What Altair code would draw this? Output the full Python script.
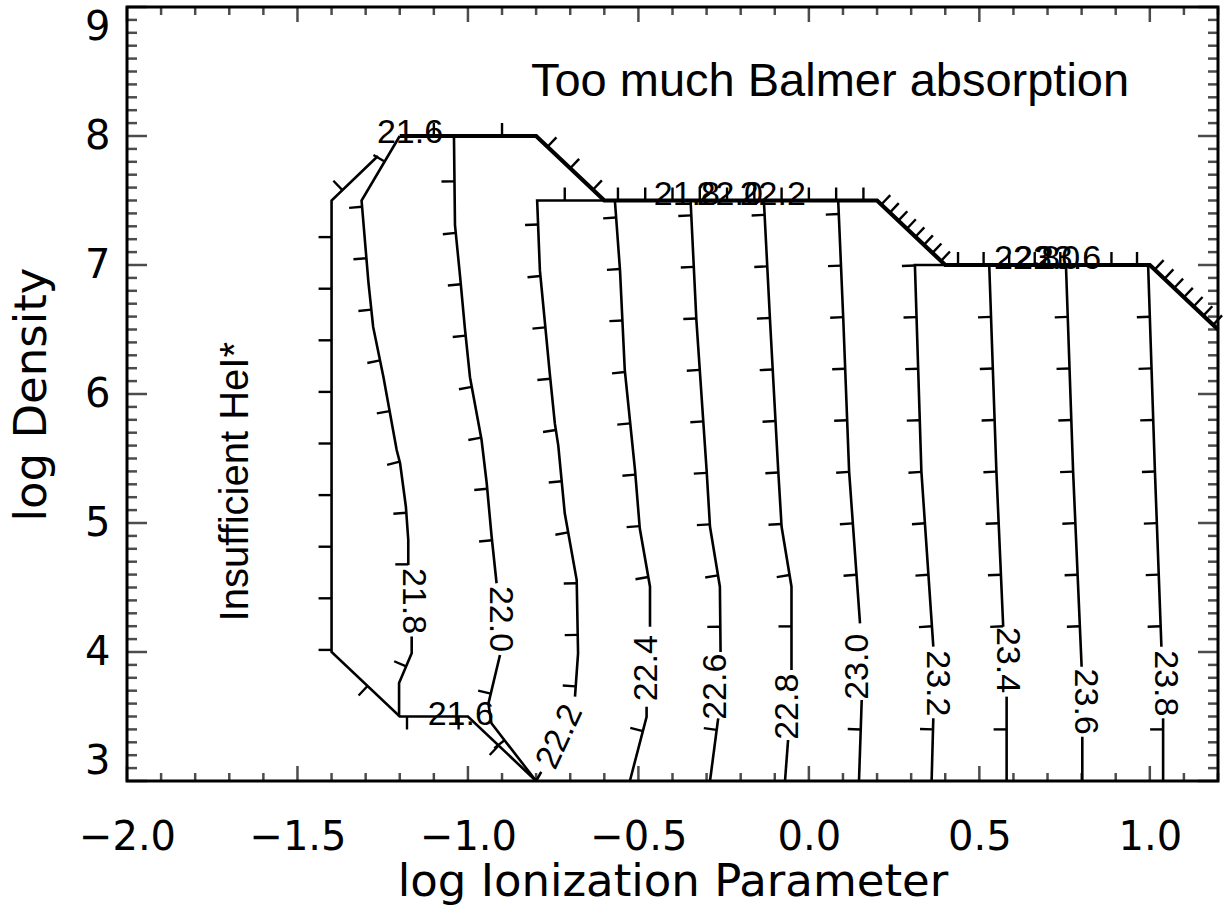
import math
import altair as alt
import pandas as pd

# ---------------- axes ----------------
X_MIN, X_MAX = -2.0, 1.2
Y_MIN, Y_MAX = 3.0, 9.0
PLOT_W, PLOT_H = 1091, 774
X_MAJOR = [-2.0, -1.5, -1.0, -0.5, 0.0, 0.5, 1.0]
Y_MAJOR = [3, 4, 5, 6, 7, 8, 9]

# ---------------- contour levels (None = gap left for the label) ----------------
C216_X = [-0.80, -1.00, -1.20, -1.40, -1.40, -1.264]
C216_Y = [3.00, 3.50, 3.50, 4.00, 7.50, 7.845]

C218_X = [-1.202, -1.202, -1.165, -1.165, None, -1.175, -1.175, -1.182, -1.199, -1.209, -1.248, -1.278, -1.292, -1.312, -1.20]
C218_Y = [3.50, 3.76, 3.99, 4.12, None, 4.674, 4.868, 5.126, 5.463, 5.566, 6.134, 6.52, 6.87, 7.50, 8.00]

C220_X = [-0.80, -0.931, -0.940, -0.906, None, -0.916, -0.931, -0.945, -0.960, -0.994, -1.009, -1.023, -1.038, -1.041]
C220_Y = [3.00, 3.447, 3.60, 3.977, None, 4.533, 4.907, 5.31, 5.643, 6.13, 6.51, 6.91, 7.31, 8.00]

C222_X = [-0.80, -0.785, None, -0.686, -0.677, -0.681, -0.716, -0.735, -0.745, -0.760, -0.774, -0.789, -0.797, -0.60]
C222_Y = [3.00, 3.07, None, 3.654, 3.99, 4.558, 5.075, 5.60, 5.77, 6.16, 6.548, 6.96, 7.50, 7.50]

C224_X = [-0.525, -0.476, -0.476, None, -0.466, -0.466, -0.496, -0.510, -0.540, -0.554, -0.569]
C224_Y = [3.00, 3.498, 3.576, None, 4.196, 4.506, 4.959, 5.411, 6.186, 6.96, 7.50]

C226_X = [-0.290, -0.266, None, -0.259, -0.261, -0.290, -0.300, -0.330, -0.347]
C226_Y = [3.00, 3.486, None, 4.00, 4.506, 4.971, 5.411, 6.574, 7.50]

C228_X = [-0.070, -0.061, None, -0.051, -0.051, -0.080, -0.090, -0.114, -0.132]
C228_Y = [3.00, 3.318, None, 3.86, 4.506, 4.971, 5.411, 6.574, 7.50]

C230_X = [0.147, 0.155, None, 0.150, 0.118, 0.101, 0.086]
C230_Y = [3.00, 3.628, None, 4.222, 5.40, 6.574, 7.50]

C232_X = [0.360, 0.365, None, 0.365, 0.330, 0.311, 0.404]
C232_Y = [3.00, 3.486, None, 4.041, 5.40, 7.00, 7.00]

C234_X = [0.580, 0.580, None, 0.570, 0.550, 0.529]
C234_Y = [3.00, 3.654, None, 4.196, 5.40, 7.00]

C236_X = [0.802, 0.802, None, 0.800, 0.775, 0.754]
C236_Y = [3.00, 3.343, None, 3.886, 5.40, 7.00]

C238_X = [1.039, 1.039, None, 1.034, 1.015, 0.995]
C238_Y = [3.00, 3.486, None, 4.041, 5.40, 7.00]

CONTOURS = [
    ("21.6", C216_X, C216_Y), ("21.8", C218_X, C218_Y), ("22.0", C220_X, C220_Y),
    ("22.2", C222_X, C222_Y), ("22.4", C224_X, C224_Y), ("22.6", C226_X, C226_Y),
    ("22.8", C228_X, C228_Y), ("23.0", C230_X, C230_Y), ("23.2", C232_X, C232_Y),
    ("23.4", C234_X, C234_Y), ("23.6", C236_X, C236_Y), ("23.8", C238_X, C238_Y),
]

# upper edge of the valid model grid (all levels pile up here)
BOUNDARY_X = [-1.20, -0.80, -0.60, 0.20, 0.40, 1.00, 1.20]
BOUNDARY_Y = [8.00, 8.00, 7.50, 7.50, 7.00, 7.00, 6.50]
BOUNDARY_TICK_COUNTS = [2, 3, 10, 8, 8, 7]

# contour labels
LABEL_TEXT = ["21.6", "21.6", "21.8", "22.0", "22.2", "22.4", "22.6", "22.8", "23.0",
              "23.2", "23.4", "23.6", "23.8",
              "21.8", "22.0", "22.2", "22.8", "23.0", "23.6"]
LABEL_X = [-1.170, -1.021, -1.161, -0.906, -0.730, -0.476, -0.271, -0.061, 0.145,
           0.375, 0.580, 0.809, 1.044,
           -0.358, -0.232, -0.106, 0.640, 0.699, 0.760]
LABEL_Y = [8.027, 3.512, 4.395, 4.256, 3.343, 3.874, 3.731, 3.576, 3.886,
           3.757, 3.938, 3.615, 3.757,
           7.543, 7.543, 7.543, 7.047, 7.047, 7.047]
LABEL_ANGLE = [0, 0, 90, 90, 295, 270, 270, 270, 270,
               90, 90, 90, 90,
               0, 0, 0, 0, 0, 0]

NOTE_TEXT = ["Too much Balmer absorption", "Insufficient HeI*"]
NOTE_X = [0.062, -1.645]
NOTE_Y = [8.31, 5.32]

# ---------------- build tables ----------------
SX = PLOT_W / (X_MAX - X_MIN)
SY = PLOT_H / (Y_MAX - Y_MIN)
TICK_SPACING = 51.6
TICK_LEN = 13.0


def split_segments(xs, ys):
    segs, cur = [], []
    for x, y in zip(xs, ys):
        if x is None:
            if cur:
                segs.append(cur)
            cur = []
        else:
            cur.append((x, y))
    if cur:
        segs.append(cur)
    return segs


def tick_end(px, py, x0, y0, x1, y1, length):
    dx = (x1 - x0) * SX
    dy = -(y1 - y0) * SY
    L = math.hypot(dx, dy)
    ux, uy = dx / L, dy / L
    lx, ly = uy, -ux  # left of travel direction (screen coords)
    return px + lx * length / SX, py - ly * length / SY


def ticks_along(segs):
    out = []
    s = 0.0
    nxt = TICK_SPACING
    last = None
    for seg in segs:
        if last is not None:
            g = math.hypot((seg[0][0] - last[0]) * SX, (seg[0][1] - last[1]) * SY)
            s += g
            while nxt < s:
                nxt += TICK_SPACING
        for (x0, y0), (x1, y1) in zip(seg[:-1], seg[1:]):
            L = math.hypot((x1 - x0) * SX, (y1 - y0) * SY)
            while nxt <= s + L:
                t = (nxt - s) / L
                px, py = x0 + t * (x1 - x0), y0 + t * (y1 - y0)
                ex, ey = tick_end(px, py, x0, y0, x1, y1, TICK_LEN)
                out.append((px, py, ex, ey))
                nxt += TICK_SPACING
            s += L
        last = seg[-1]
    return out


line_rows, tick_rows = [], []
for lvl, xs_, ys_ in CONTOURS:
    segs = split_segments(xs_, ys_)
    for si, seg in enumerate(segs):
        for oi, (x, y) in enumerate(seg):
            line_rows.append({"seg": f"{lvl}-{si}", "o": oi, "x": x, "y": y})
    for px, py, ex, ey in ticks_along(segs):
        tick_rows.append({"x": px, "y": py, "x2": ex, "y2": ey})

bnd_rows = [{"o": i, "x": x, "y": y} for i, (x, y) in enumerate(zip(BOUNDARY_X, BOUNDARY_Y))]
for i, n in enumerate(BOUNDARY_TICK_COUNTS):
    x0, y0, x1, y1 = BOUNDARY_X[i], BOUNDARY_Y[i], BOUNDARY_X[i + 1], BOUNDARY_Y[i + 1]
    for k in range(n):
        t = (k + 0.5) / n
        px, py = x0 + t * (x1 - x0), y0 + t * (y1 - y0)
        ex, ey = tick_end(px, py, x0, y0, x1, y1, TICK_LEN)
        tick_rows.append({"x": px, "y": py, "x2": ex, "y2": ey})

lines_df = pd.DataFrame(line_rows)
bnd_df = pd.DataFrame(bnd_rows)
ticks_df = pd.DataFrame(tick_rows)
labels_df = pd.DataFrame({"t": LABEL_TEXT, "x": LABEL_X, "y": LABEL_Y, "a": LABEL_ANGLE})

x_minor = [round(X_MIN + 0.1 * i, 1) for i in range(int(round((X_MAX - X_MIN) / 0.1)) + 1)]
x_minor = [v for v in x_minor if all(abs(v - m) > 1e-6 for m in X_MAJOR)]
y_minor = [round(Y_MIN + 0.1 * i, 1) for i in range(int(round((Y_MAX - Y_MIN) / 0.1)) + 1)]
y_minor = [v for v in y_minor if all(abs(v - m) > 1e-6 for m in Y_MAJOR)]

xs = alt.Scale(domain=[X_MIN, X_MAX], nice=False, zero=False)
ys = alt.Scale(domain=[Y_MIN, Y_MAX], nice=False, zero=False)

x_axis = alt.Axis(values=X_MAJOR, format=".1f", title="log Ionization Parameter",
                  grid=False, ticks=False, tickSize=0, domain=False, labelPadding=36,
                  labelFont="DejaVu Sans", labelFontSize=40, labelColor="black",
                  labelFlush=False, labelOverlap=False,
                  titleFont="DejaVu Sans", titleFontSize=45, titleFontWeight="normal",
                  titleColor="black", titlePadding=2)
y_axis = alt.Axis(values=Y_MAJOR, format="d", title="log Density",
                  grid=False, ticks=False, tickSize=0, domain=False, labelPadding=17,
                  labelFont="DejaVu Sans", labelFontSize=40, labelColor="black",
                  labelFlush=True, labelOverlap=False,
                  titleFont="DejaVu Sans", titleFontSize=45, titleFontWeight="normal",
                  titleColor="black", titlePadding=30)


def X(field):
    return alt.X(field, scale=xs, axis=x_axis)


def Y(field):
    return alt.Y(field, scale=ys, axis=y_axis)


contours = alt.Chart(lines_df).mark_line(color="black", strokeWidth=2.6).encode(
    x=X("x:Q"), y=Y("y:Q"), detail="seg:N", order="o:Q",
)

boundary = alt.Chart(bnd_df).mark_line(color="black", strokeWidth=4.2).encode(
    x=X("x:Q"), y=Y("y:Q"), order="o:Q",
)

downhill = alt.Chart(ticks_df).mark_rule(color="black", strokeWidth=2.4).encode(
    x=X("x:Q"), y=Y("y:Q"), x2="x2:Q", y2="y2:Q",
)

labels = alt.Chart(labels_df).mark_text(
    font="Liberation Sans", fontSize=34, align="center", baseline="middle", color="black"
).encode(
    x=X("x:Q"), y=Y("y:Q"), text="t:N", angle=alt.Angle("a:Q", scale=None),
)

note_top = alt.Chart(pd.DataFrame({"t": [NOTE_TEXT[0]], "x": [NOTE_X[0]], "y": [NOTE_Y[0]]})).mark_text(
    font="Liberation Sans", fontSize=47, align="center", baseline="alphabetic", color="black"
).encode(x=X("x:Q"), y=Y("y:Q"), text="t:N")

note_left = alt.Chart(pd.DataFrame({"t": [NOTE_TEXT[1]], "x": [NOTE_X[1]], "y": [NOTE_Y[1]]})).mark_text(
    font="Liberation Sans", fontSize=40, align="center", baseline="alphabetic", color="black", angle=270
).encode(x=X("x:Q"), y=Y("y:Q"), text="t:N")


def xticks(vals, size, ypos, sign):
    df = pd.DataFrame({"v": vals})
    return alt.Chart(df).mark_tick(orient="vertical", size=size, thickness=2.5,
                                   color="black", yOffset=sign * size / 2).encode(
        x=X("v:Q"),
        y=alt.YDatum(ypos, scale=ys, axis=y_axis),
    )


def yticks(vals, size, xpos, sign):
    df = pd.DataFrame({"v": vals})
    return alt.Chart(df).mark_tick(orient="horizontal", size=size, thickness=2.5,
                                   color="black", xOffset=sign * size / 2).encode(
        y=Y("v:Q"),
        x=alt.XDatum(xpos, scale=xs, axis=x_axis),
    )


axis_ticks = [
    xticks(X_MAJOR, 15, Y_MIN, -1), xticks(x_minor, 8, Y_MIN, -1),
    xticks(X_MAJOR, 15, Y_MAX, 1), xticks(x_minor, 8, Y_MAX, 1),
    yticks(Y_MAJOR, 20, X_MIN, 1), yticks(y_minor, 10, X_MIN, 1),
    yticks(Y_MAJOR, 20, X_MAX, -1), yticks(y_minor, 10, X_MAX, -1),
]

chart = alt.layer(
    contours, boundary, downhill, *axis_ticks, labels, note_top, note_left
).properties(
    width=PLOT_W, height=PLOT_H,
    padding={"left": 127, "top": 7, "right": 6, "bottom": 136},
    autosize=alt.AutoSizeParams(type="none"),
    background="white",
).configure_view(stroke="black", strokeWidth=3)

chart.save("out.html", embed_options={"renderer": "svg", "actions": False})
